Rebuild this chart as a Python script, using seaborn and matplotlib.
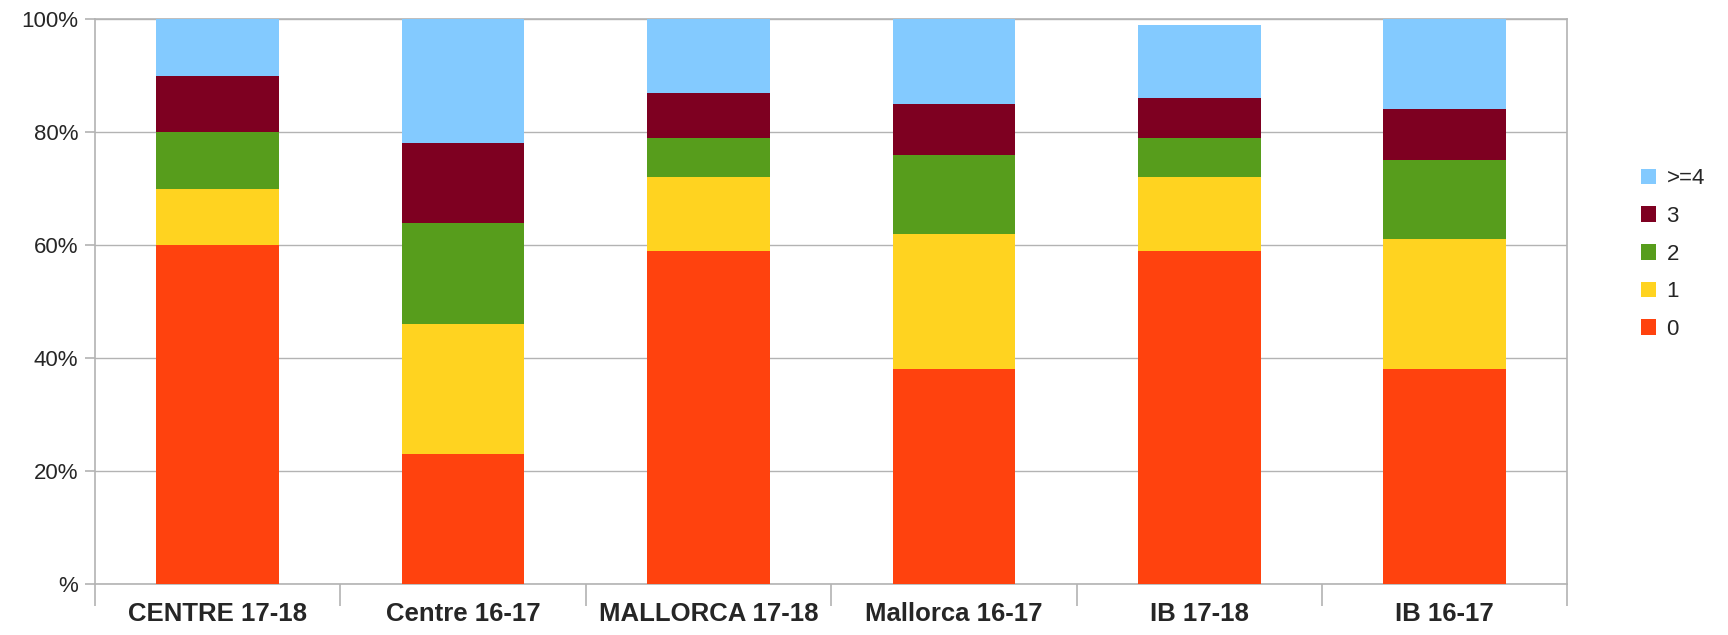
import matplotlib
matplotlib.use('Agg')
import matplotlib.pyplot as plt
import seaborn as sns
import numpy as np
import pandas as pd

cats = ['CENTRE 17-18', 'Centre 16-17', 'MALLORCA 17-18', 'Mallorca 16-17', 'IB 17-18', 'IB 16-17']
v0 = [60, 23, 59, 38, 59, 38]
v1 = [10, 23, 13, 24, 13, 23]
v2 = [10, 18, 7, 14, 7, 14]
v3 = [10, 14, 8, 9, 7, 9]
v4 = [10, 22, 13, 15, 13, 16]
series = ['0', '1', '2', '3', '>=4']
colors = ['#ff420e', '#ffd320', '#579d1c', '#7e0021', '#83caff']
yticklabels = ['%', '20%', '40%', '60%', '80%', '100%']

sns.set_style('white')
plt.rcParams['font.family'] = ['Liberation Sans', 'DejaVu Sans']

df = pd.DataFrame({'cat': cats, '0': v0, '1': v1, '2': v2, '3': v3, '>=4': v4})
cum = df[series].cumsum(axis=1)

fig, ax = plt.subplots(figsize=(17.28, 6.35), dpi=100)
fig.subplots_adjust(left=0.055, right=0.907, top=0.970, bottom=0.080)

# draw from the tallest cumulative down so the stacks show through
for s, c in reversed(list(zip(series, colors))):
    sns.barplot(x=df['cat'], y=cum[s], color=c, width=0.5, saturation=1,
                label=s, ax=ax, zorder=3, linewidth=0)

ax.set_ylim(0, 100)
ax.set_xlim(-0.5, len(cats) - 0.5)
ax.set_yticks([0, 20, 40, 60, 80, 100])
ax.set_yticklabels(yticklabels, fontsize=16)
ax.set_xticks(range(len(cats)))
ax.set_xticklabels(cats, fontsize=18.5, fontweight='bold')
ax.set_xticks(np.arange(-0.5, len(cats), 1), minor=True)
ax.tick_params(axis='x', which='major', length=0, pad=13, bottom=False)
ax.tick_params(axis='x', which='minor', length=16, color='#b3b3b3', width=1.2, bottom=True)
ax.tick_params(axis='y', length=7, color='#b3b3b3', width=1.2, pad=5, left=True)
ax.set_xlabel('')
ax.set_ylabel('')
ax.grid(axis='y', color='#b3b3b3', linewidth=1, zorder=0)
for sp in ax.spines.values():
    sp.set_color('#b3b3b3')
    sp.set_linewidth(1.2)

ax.legend_.remove()
h, l = ax.get_legend_handles_labels()
fig.legend(h, l, loc='center left', bbox_to_anchor=(0.938, 0.60), frameon=False,
           fontsize=16, handlelength=0.7, handleheight=0.7, handletextpad=0.45,
           labelspacing=0.75)

fig.savefig('out.png', dpi=100)
